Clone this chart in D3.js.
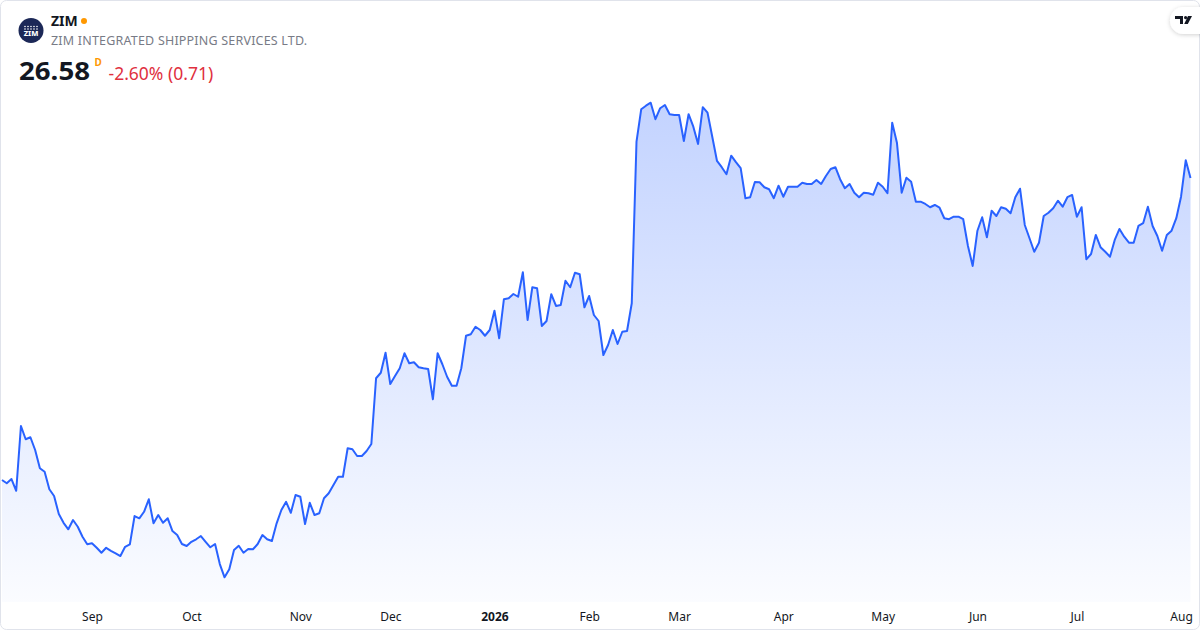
<!DOCTYPE html>
<html>
<head>
<meta charset="utf-8">
<script src="https://cdn.jsdelivr.net/npm/d3@7"></script>
<style>
  html, body { margin: 0; padding: 0; background: #fff; }
  svg { display: block; font-family: "Noto Sans", "Open Sans", sans-serif; }
</style>
</head>
<body>
<svg id="chart" width="1200" height="630"></svg>
<script>
// daily closes, 5 Aug 2025 .. 5 Aug 2026 (trading days)
const closes = [
  14.50, 14.37, 14.54, 14.07, 16.66, 16.13, 16.21, 15.70, 14.97, 14.83,
  14.13, 13.86, 13.14, 12.79, 12.53, 12.90, 12.63, 12.23, 11.93, 11.97,
  11.79, 11.59, 11.79, 11.67, 11.57, 11.46, 11.83, 11.93, 13.06, 12.97,
  13.23, 13.73, 12.77, 13.10, 12.79, 12.97, 12.46, 12.30, 11.94, 11.86,
  12.03, 12.13, 12.26, 12.03, 11.81, 11.94, 11.14, 10.61, 10.93, 11.70,
  11.87, 11.59, 11.74, 11.73, 11.94, 12.30, 12.13, 12.06, 12.77, 13.30,
  13.63, 13.19, 13.90, 13.83, 12.74, 13.59, 13.10, 13.17, 13.77, 13.97,
  14.30, 14.63, 14.63, 15.77, 15.73, 15.46, 15.46, 15.66, 15.94, 18.57,
  18.79, 19.59, 18.34, 18.66, 18.97, 19.57, 19.17, 19.21, 19.01, 18.97,
  18.94, 17.73, 19.57, 19.13, 18.63, 18.27, 18.27, 18.97, 20.27, 20.33,
  20.63, 20.50, 20.27, 20.50, 21.27, 20.17, 21.73, 21.77, 21.94, 21.83,
  22.81, 20.90, 22.21, 22.17, 20.66, 20.86, 21.93, 21.46, 21.50, 22.47,
  22.21, 22.79, 22.73, 21.41, 21.86, 21.10, 20.86, 19.50, 19.90, 20.50,
  19.94, 20.43, 20.46, 21.57, 28.03, 29.33, 29.47, 29.59, 28.93, 29.37,
  29.50, 29.13, 29.10, 29.10, 28.06, 29.13, 28.63, 27.94, 29.41, 29.19,
  28.23, 27.26, 27.01, 26.73, 27.47, 27.21, 26.97, 25.77, 25.81, 26.42,
  26.41, 26.21, 26.13, 25.77, 26.27, 25.83, 26.23, 26.23, 26.23, 26.39,
  26.34, 26.34, 26.50, 26.34, 26.66, 26.94, 27.01, 26.53, 26.17, 26.34,
  25.99, 25.81, 25.99, 25.97, 25.91, 26.39, 26.23, 25.97, 28.79, 27.99,
  25.99, 26.59, 26.43, 25.63, 25.63, 25.54, 25.41, 25.50, 25.39, 24.97,
  24.93, 25.03, 25.03, 24.93, 23.86, 23.06, 24.47, 25.01, 24.21, 25.27,
  25.06, 25.41, 25.35, 25.17, 25.81, 26.15, 24.70, 24.17, 23.63, 23.99,
  25.06, 25.19, 25.37, 25.67, 25.43, 25.81, 25.90, 25.03, 25.41, 23.33,
  23.54, 24.30, 23.81, 23.63, 23.43, 24.10, 24.54, 24.23, 23.99, 23.99,
  24.66, 24.77, 25.43, 24.66, 24.26, 23.67, 24.30, 24.47, 24.97, 25.83,
  27.29, 26.58
];

// first trading day of each month (index into closes) and its label
const monthIdx = [19, 40, 63, 82, 104, 124, 143, 165, 186, 206, 227, 249];
const monthLabels = ["Sep", "Oct", "Nov", "Dec", "2026", "Feb", "Mar", "Apr", "May", "Jun", "Jul", "Aug"];

const ticker = "ZIM";
const company = "ZIM INTEGRATED SHIPPING SERVICES LTD.";
const lastPrice = "26.58";
const change = "-2.60% (0.71)";

const W = 1200, H = 630;
const paneBottom = 602;

const svg = d3.select("#chart");

// frame
svg.append("rect")
  .attr("x", 0.5).attr("y", 0.5)
  .attr("width", W - 1).attr("height", H - 1)
  .attr("rx", 6)
  .attr("fill", "#fff")
  .attr("stroke", "#e0e3eb");

var x = d3.scaleLinear()
  .domain([0, closes.length - 1])
  .range([2, 1190.5]);

var y = d3.scaleLinear()
  .domain(d3.extent(closes))
  .range([577.3, 102.7]);

var defs = svg.append("defs");
var grad = defs.append("linearGradient")
  .attr("id", "areaFill")
  .attr("gradientUnits", "userSpaceOnUse")
  .attr("x1", 0).attr("y1", y.range()[1])
  .attr("x2", 0).attr("y2", paneBottom);
grad.append("stop").attr("offset", 0).attr("stop-color", "#2962ff").attr("stop-opacity", 0.28);
grad.append("stop").attr("offset", 1).attr("stop-color", "#2962ff").attr("stop-opacity", 0.02);

var shadow = defs.append("filter").attr("id", "pillShadow")
  .attr("x", "-50%").attr("y", "-50%").attr("width", "200%").attr("height", "200%");
shadow.append("feDropShadow")
  .attr("dx", 0).attr("dy", 1).attr("stdDeviation", 2)
  .attr("flood-color", "#000").attr("flood-opacity", 0.18);

var area = d3.area()
  .x(function (d, i) { return x(i); })
  .y0(paneBottom)
  .y1(function (d) { return y(d); });

var line = d3.line()
  .x(function (d, i) { return x(i); })
  .y(function (d) { return y(d); });

svg.append("path")
  .datum(closes)
  .attr("d", area)
  .attr("fill", "url(#areaFill)");

svg.append("path")
  .datum(closes)
  .attr("d", line)
  .attr("fill", "none")
  .attr("stroke", "#2962ff")
  .attr("stroke-width", 2)
  .attr("stroke-linejoin", "round");

// time axis
var xAxis = d3.axisBottom(x)
  .tickValues(monthIdx)
  .tickSize(0)
  .tickPadding(0)
  .tickFormat(function (d, i) { return monthLabels[i]; });

var gx = svg.append("g")
  .attr("transform", "translate(0," + 617.5 + ")")
  .call(xAxis);
gx.select(".domain").remove();
gx.selectAll("text")
  .attr("dy", "0.32em")
  .style("font-family", "'Noto Sans', sans-serif")
  .style("font-size", "12px")
  .style("fill", "#131722")
  .style("font-weight", function (d, i) { return monthLabels[i] === "2026" ? "700" : "400"; });

// header
var logo = svg.append("g").attr("transform", "translate(31,30.5)");
logo.append("circle").attr("r", 12.5).attr("fill", "#1c2857");
[-6, -3, 0, 3, 6].forEach(function (dx) {
  logo.append("circle").attr("cx", dx).attr("cy", -4).attr("r", 0.8).attr("fill", "#fff");
  logo.append("circle").attr("cx", dx).attr("cy", -1.5).attr("r", 0.8).attr("fill", "#fff");
});
logo.append("text")
  .attr("y", 5.5).attr("text-anchor", "middle")
  .style("font-size", "7.5px").style("font-weight", "800").style("fill", "#fff")
  .text("ZIM");

svg.append("text")
  .attr("x", 51).attr("y", 26)
  .style("font-size", "14px").style("font-weight", "700").style("fill", "#131722")
  .text(ticker);
svg.append("circle").attr("cx", 84).attr("cy", 21).attr("r", 3).attr("fill", "#ff9800");

svg.append("text")
  .attr("x", 51).attr("y", 45)
  .style("font-size", "12.5px").style("fill", "#787b86").style("letter-spacing", "0.2px")
  .text(company);

svg.append("text")
  .attr("x", 19).attr("y", 80)
  .attr("textLength", 71).attr("lengthAdjust", "spacingAndGlyphs")
  .style("font-size", "25px").style("font-weight", "700").style("fill", "#131722")
  .text(lastPrice);
svg.append("text")
  .attr("x", 94.5).attr("y", 66)
  .style("font-size", "10px").style("font-weight", "700").style("fill", "#ff9800")
  .text("D");
svg.append("text")
  .attr("x", 108.5).attr("y", 80)
  .style("font-size", "17.5px").style("fill", "#e0303e")
  .text(change);

// tradingview badge
var badge = svg.append("g");
badge.append("rect")
  .attr("x", 1170).attr("y", 7).attr("width", 44).attr("height", 27).attr("rx", 13.5)
  .attr("fill", "#fff").attr("filter", "url(#pillShadow)");
badge.append("path")
  .attr("d", "M1175,16h8v8h-3v-5h-5z")
  .attr("fill", "#131722");
badge.append("circle").attr("cx", 1185.6).attr("cy", 17.6).attr("r", 1.6).attr("fill", "#131722");
badge.append("path")
  .attr("d", "M1188,16h4l-4.2,8h-3.6z")
  .attr("fill", "#131722");
</script>
</body>
</html>
